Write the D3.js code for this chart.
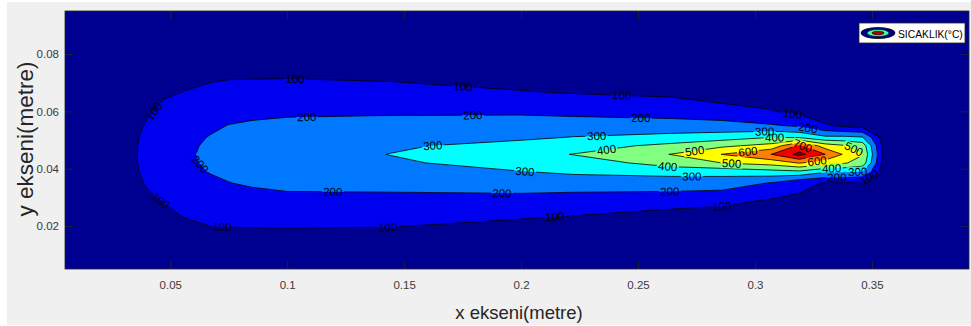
<!DOCTYPE html>
<html>
<head>
<meta charset="utf-8">
<script src="https://cdn.jsdelivr.net/npm/d3@7"></script>
<style>
  body { margin: 0; background: #fff; }
  svg { display: block; font-family: "Liberation Sans", Arial, Helvetica, sans-serif; }
</style>
</head>
<body>
<svg id="chart" width="971" height="326"></svg>
<script>
// grid nodes (metre) - non uniform, finer near the plume axis
const xNodes = [0.03, 0.04, 0.047, 0.055, 0.067, 0.075, 0.085, 0.1, 0.144, 0.2, 0.222, 0.264, 0.286, 0.307, 0.319, 0.33, 0.338, 0.346, 0.356];
const yNodes = [0.015, 0.023, 0.03, 0.035, 0.039, 0.042, 0.045, 0.048, 0.051, 0.055, 0.06, 0.067, 0.075];

// temperature (°C), one row per yNode, one value per xNode
const tempRows = [
  [30, 30, 35, 40, 67, 59, 57, 54, 49, 51, 45, 25, 20, 20, 20, 20, 20, 20, 20],
  [30, 50, 69, 99, 120, 130, 135, 140, 138, 104, 93, 38, 30, 50, 35, 20, 20, 20, 20],
  [30, 80, 110, 140, 160, 175, 172, 186, 183, 181, 178, 188, 155, 104, 90, 35, 30, 25, 20],
  [30, 112, 145, 165, 188, 198, 212, 220, 230, 250, 240, 217, 245, 195, 124, 95, 80, 60, 20],
  [30, 135, 160, 178, 203, 217, 226, 238, 262, 298, 320, 361, 341, 370, 385, 317, 317, 302, 20],
  [30, 145, 168, 184, 210, 223, 232, 246, 285, 340, 360, 430, 501, 540, 606, 550, 510, 460, 20],
  [30, 147, 170, 186, 214, 225, 235, 250, 302, 370, 402, 502, 602, 701, 830, 701, 590, 505, 20],
  [30, 145, 168, 184, 210, 223, 232, 246, 285, 335, 355, 425, 480, 533, 720, 550, 510, 460, 20],
  [30, 135, 162, 178, 203, 217, 226, 238, 262, 280, 302, 331, 354, 396, 381, 317, 317, 302, 20],
  [30, 112, 150, 165, 188, 202, 212, 220, 230, 245, 250, 236, 227, 210, 187, 110, 80, 60, 20],
  [30, 80, 125, 140, 160, 177, 179, 186, 188, 184, 172, 164, 152, 105, 75, 47, 30, 25, 20],
  [30, 50, 82, 99, 120, 135, 138, 140, 140, 102, 91, 74, 20, 55, 35, 25, 20, 20, 20],
  [30, 30, 40, 40, 67, 65, 66, 67, 46, 49, 45, 40, 20, 20, 20, 20, 20, 20, 20]
];

const levels = [100, 200, 300, 400, 500, 600, 700, 800];
const levelColors = ['#0000f0', '#0078ff', '#00ffff', '#80ff80', '#ffff00', '#ff8000', '#f00000', '#800000'];
const baseColor = '#000090';

const xTicks = [0.05, 0.1, 0.15, 0.2, 0.25, 0.3, 0.35];
const yTicks = [0.02, 0.04, 0.06, 0.08];

// inline contour labels: level, x, y (approximate spot on the line)
const labelSpots = [
  [100, 0.1033, 0.0707], [100, 0.0439, 0.0595], [200, 0.1084, 0.0578], [200, 0.0635, 0.0421],
  [100, 0.0456, 0.0286], [100, 0.0721, 0.0192], [200, 0.1195, 0.0313], [100, 0.1751, 0.0686],
  [100, 0.2430, 0.0644], [200, 0.1794, 0.0585], [300, 0.1623, 0.0470], [300, 0.2016, 0.0386],
  [400, 0.2366, 0.0460], [200, 0.1918, 0.0310], [100, 0.1430, 0.0192], [100, 0.2144, 0.0227],
  [300, 0.2323, 0.0519], [200, 0.2512, 0.0574], [400, 0.2627, 0.0407], [300, 0.2730, 0.0373],
  [200, 0.2636, 0.0320], [500, 0.2742, 0.0463], [100, 0.2858, 0.0268], [100, 0.3161, 0.0595],
  [200, 0.3225, 0.0536], [300, 0.3041, 0.0533], [400, 0.3084, 0.0505], [600, 0.2970, 0.0460],
  [500, 0.2900, 0.0418], [700, 0.3200, 0.0470], [600, 0.3268, 0.0411], [400, 0.3328, 0.0397],
  [200, 0.3350, 0.0373], [300, 0.3439, 0.0390], [100, 0.3477, 0.0386], [500, 0.3426, 0.0474]
];

const W = 971, H = 326;
const plot = { left: 65, top: 11, right: 969, bottom: 269 };

const svg = d3.select('#chart');

// figure background
svg.append('rect').attr('x', 7).attr('y', 2).attr('width', W - 7).attr('height', H - 3).attr('fill', '#f0f0f0');

const x = d3.scaleLinear().domain([0.005, 0.3915]).range([plot.left, plot.right]);
const y = d3.scaleLinear().domain([0.005, 0.095]).range([plot.bottom, plot.top]);

// grid index -> metre (piecewise linear over the node arrays)
const nx = xNodes.length, ny = yNodes.length;
const gx = d3.scaleLinear().domain(d3.range(nx)).range(xNodes).clamp(true);
const gy = d3.scaleLinear().domain(d3.range(ny)).range(yNodes).clamp(true);
const proj = (p) => [x(gx(p[0] - 0.5)), y(gy(p[1] - 0.5))];

const bands = d3.contours().size([nx, ny]).thresholds(levels)(tempRows.flat());

const ringsByLevel = new Map();
bands.forEach((b) => {
  const rings = b.coordinates.flatMap((poly) => poly.map((ring) => ring.map(proj)));
  ringsByLevel.set(b.value, rings);
});

const ringPath = (rings) =>
  rings.map((r) => 'M' + r.map((p) => p[0].toFixed(2) + ',' + p[1].toFixed(2)).join('L') + 'Z').join('');

// plot background (lowest band)
svg.append('rect')
  .attr('x', plot.left).attr('y', plot.top)
  .attr('width', plot.right - plot.left).attr('height', plot.bottom - plot.top)
  .attr('fill', baseColor);

const g = svg.append('g');

// Filled bands
g.append('g')
  .selectAll('path')
  .data(levels)
  .enter()
  .append('path')
  .attr('d', (lv) => ringPath(ringsByLevel.get(lv) || []))
  .attr('fill', (lv, i) => levelColors[i])
  .attr('fill-rule', 'evenodd');

// Label placement: snap to nearest point of its isoline
function snap(rings, px, py) {
  let best = null, bd = Infinity;
  rings.forEach((r) => {
    for (let i = 0; i < r.length - 1; i++) {
      const [ax, ay] = r[i], [bx, by] = r[i + 1];
      const dx = bx - ax, dy = by - ay, L2 = dx * dx + dy * dy || 1e-9;
      let t = ((px - ax) * dx + (py - ay) * dy) / L2;
      t = Math.max(0, Math.min(1, t));
      const qx = ax + t * dx, qy = ay + t * dy;
      const d = (qx - px) ** 2 + (qy - py) ** 2;
      if (d < bd) {
        bd = d;
        let a = (Math.atan2(dy, dx) * 180) / Math.PI;
        if (a > 90) a -= 180;
        if (a < -90) a += 180;
        best = { x: qx, y: qy, a };
      }
    }
  });
  return best;
}

const labelFont = 11.5;
const placed = labelSpots
  .map(([lv, lx, ly]) => {
    const s = snap(ringsByLevel.get(lv) || [], x(lx), y(ly));
    return s ? { lv, ...s } : null;
  })
  .filter(Boolean);

// Gaps in the lines under the labels
const mask = svg.append('defs').append('mask')
  .attr('id', 'labelGaps')
  .attr('maskUnits', 'userSpaceOnUse')
  .attr('x', 0).attr('y', 0).attr('width', W).attr('height', H);
mask.append('rect').attr('width', W).attr('height', H).attr('fill', '#fff');
const gapW = String(100).length * 0.556 * labelFont + 3;
mask.selectAll('rect.gap')
  .data(placed)
  .enter()
  .append('rect')
  .attr('class', 'gap')
  .attr('x', -gapW / 2).attr('y', -5)
  .attr('width', gapW).attr('height', 10)
  .attr('fill', '#000')
  .attr('transform', (d) => `translate(${d.x},${d.y}) rotate(${d.a})`);

// Isolines
g.append('g')
  .attr('mask', 'url(#labelGaps)')
  .selectAll('path')
  .data(levels)
  .enter()
  .append('path')
  .attr('d', (lv) => ringPath(ringsByLevel.get(lv) || []))
  .attr('fill', 'none')
  .attr('stroke', '#000')
  .attr('stroke-width', 0.8)
  .attr('stroke-linejoin', 'round');

// Labels
g.append('g')
  .selectAll('text')
  .data(placed)
  .enter()
  .append('text')
  .attr('transform', (d) => `translate(${d.x},${d.y}) rotate(${d.a})`)
  .attr('text-anchor', 'middle')
  .attr('dy', '0.36em')
  .attr('font-size', labelFont)
  .attr('fill', '#000')
  .text((d) => d.lv);

// Axes (MATLAB style: ticks inside, box on)
const tickLen = 8;
const fmt = (d) => String(+d.toFixed(2));

const axB = svg.append('g').attr('transform', `translate(0,${plot.bottom})`)
  .call(d3.axisBottom(x).tickValues(xTicks).tickSize(-tickLen).tickPadding(12).tickFormat(fmt));
const axT = svg.append('g').attr('transform', `translate(0,${plot.top})`)
  .call(d3.axisTop(x).tickValues(xTicks).tickSize(-tickLen).tickFormat(''));
const axL = svg.append('g').attr('transform', `translate(${plot.left},0)`)
  .call(d3.axisLeft(y).tickValues(yTicks).tickSize(-tickLen).tickPadding(6).tickFormat(fmt));
const axR = svg.append('g').attr('transform', `translate(${plot.right},0)`)
  .call(d3.axisRight(y).tickValues(yTicks).tickSize(-tickLen).tickFormat(''));

[axB, axT, axL, axR].forEach((a) => {
  a.select('.domain').remove();
  a.selectAll('.tick line').attr('stroke', '#262626').attr('stroke-width', 0.8);
  a.selectAll('.tick text').attr('fill', '#3a3a3a').attr('font-size', 11.5)
    .attr('font-family', '"Liberation Sans", Arial, sans-serif');
});

svg.append('rect')
  .attr('x', plot.left).attr('y', plot.top)
  .attr('width', plot.right - plot.left).attr('height', plot.bottom - plot.top)
  .attr('fill', 'none').attr('stroke', '#262626').attr('stroke-width', 0.8);

// Axis titles
svg.append('text')
  .attr('x', 519).attr('y', 319)
  .attr('text-anchor', 'middle')
  .attr('font-size', 18.5)
  .attr('fill', '#262626')
  .text('x ekseni(metre)');

svg.append('text')
  .attr('transform', 'translate(33,139) rotate(-90)')
  .attr('text-anchor', 'middle')
  .attr('font-size', 22.5)
  .attr('fill', '#262626')
  .text('y ekseni(metre)');

// Legend
const leg = svg.append('g');
leg.append('rect')
  .attr('x', 859).attr('y', 23).attr('width', 106).attr('height', 20)
  .attr('fill', '#fff').attr('stroke', '#262626').attr('stroke-width', 0.8);
leg.append('ellipse').attr('cx', 878).attr('cy', 33).attr('rx', 17).attr('ry', 5.5)
  .attr('fill', '#000090').attr('stroke', '#000').attr('stroke-width', 0.8);
leg.append('ellipse').attr('cx', 878).attr('cy', 33).attr('rx', 11).attr('ry', 3.6)
  .attr('fill', '#40ffa0').attr('stroke', '#000').attr('stroke-width', 0.6);
leg.append('ellipse').attr('cx', 878).attr('cy', 33).attr('rx', 6).attr('ry', 1.8)
  .attr('fill', '#b00000').attr('stroke', '#000').attr('stroke-width', 0.6);
leg.append('text')
  .attr('x', 898).attr('y', 37.5)
  .attr('font-size', 10.3)
  .attr('fill', '#000')
  .text('SICAKLIK(°C)');
</script>
</body>
</html>
